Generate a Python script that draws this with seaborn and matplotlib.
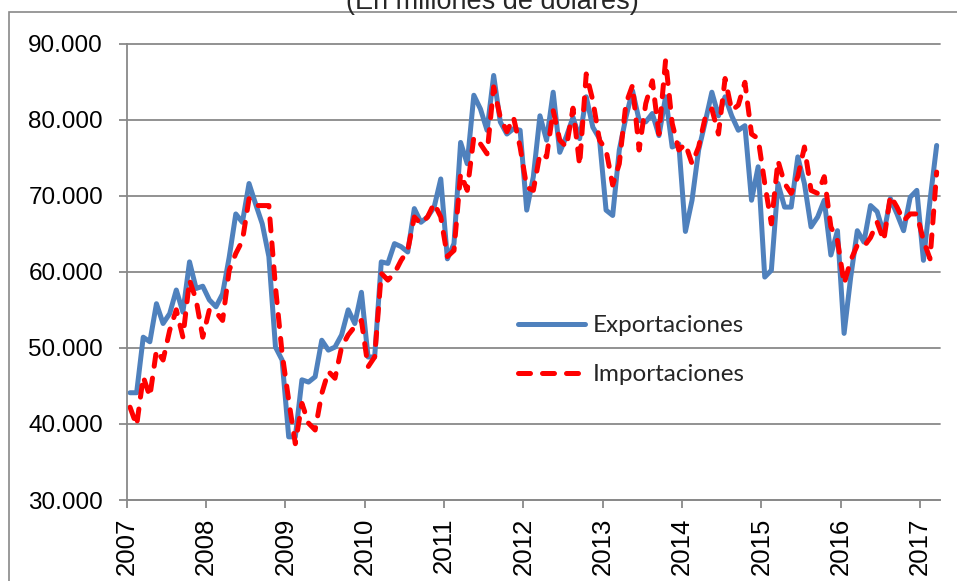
import numpy as np
import pandas as pd
import matplotlib
matplotlib.use("Agg")
import matplotlib.pyplot as plt
import seaborn as sns
from matplotlib.patches import Rectangle
from matplotlib.ticker import FuncFormatter

# Datos mensuales ene-2007 a mar-2017 (miles de millones de dolares)
anios = [2007, 2008, 2009, 2010, 2011, 2012, 2013, 2014, 2015, 2016, 2017]

exportaciones = [
    44.1, 44.1, 51.4, 50.8, 55.8, 53.2, 54.5, 57.6, 54.7, 61.3, 57.8, 58.1,
    56.3, 55.4, 57.1, 61.9, 67.6, 66.5, 71.6, 68.9, 66.3, 62.0, 50.1, 48.4,
    38.3, 38.3, 45.8, 45.5, 46.2, 51.0, 49.7, 50.1, 51.7, 55.0, 53.2, 57.3,
    48.8, 48.8, 61.3, 61.1, 63.7, 63.3, 62.6, 68.3, 66.5, 67.2, 68.5, 72.2,
    61.7, 63.7, 77.0, 74.2, 83.2, 81.4, 78.6, 85.8, 79.7, 78.1, 78.8, 78.6,
    68.1, 72.5, 80.5, 77.3, 83.6, 75.7, 77.8, 80.3, 77.5, 83.0, 79.0, 77.5,
    68.1, 67.4, 76.0, 80.3, 83.8, 79.9, 79.7, 80.8, 77.9, 83.0, 76.4, 76.8,
    65.3, 69.4, 76.0, 79.7, 83.6, 80.5, 83.0, 80.5, 78.6, 79.2, 69.4, 73.8,
    59.3, 60.2, 71.6, 68.5, 68.5, 75.1, 71.6, 65.9, 67.2, 69.4, 62.2, 65.4,
    51.9, 59.3, 65.4, 63.9, 68.7, 67.9, 65.0, 69.6, 67.6, 65.4, 69.8, 70.7,
    61.5, 69.4, 76.6,
]

importaciones = [
    42.2, 39.8, 46.2, 43.6, 49.7, 48.4, 52.3, 55.0, 51.4, 58.9, 56.3, 51.4,
    55.0, 54.7, 53.6, 60.2, 62.4, 64.1, 69.6, 68.7, 68.7, 68.7, 58.0, 49.3,
    43.1, 37.4, 42.7, 40.1, 39.2, 44.0, 46.9, 46.0, 50.1, 51.7, 52.8, 53.6,
    47.5, 48.8, 59.8, 58.9, 59.8, 61.5, 62.8, 67.2, 66.3, 67.2, 69.0, 67.2,
    62.0, 62.8, 72.9, 70.7, 77.7, 76.8, 75.5, 84.3, 80.3, 78.4, 80.3, 76.4,
    71.1, 70.7, 75.5, 75.1, 81.2, 77.3, 76.4, 81.5, 74.0, 86.0, 82.5, 77.3,
    76.0, 71.4, 74.2, 82.1, 84.5, 76.0, 82.1, 85.1, 78.1, 87.8, 79.5, 76.0,
    76.8, 74.2, 76.4, 80.3, 81.4, 78.1, 85.4, 81.2, 81.9, 84.9, 78.1, 77.5,
    71.6, 66.3, 74.6, 71.6, 70.3, 72.5, 76.4, 70.7, 70.3, 72.5, 65.9, 64.1,
    58.4, 61.5, 63.5, 63.3, 64.5, 66.5, 64.1, 70.0, 68.5, 66.7, 67.6, 67.6,
    64.1, 61.7, 73.1,
]

df = pd.DataFrame({
    "mes": np.arange(len(exportaciones)),
    "Exportaciones": np.array(exportaciones) * 1000,
    "Importaciones": np.array(importaciones) * 1000,
})

sns.set_style("white")
plt.rcParams["font.family"] = ["Liberation Sans", "DejaVu Sans"]
gris = "#898989"

fig = plt.figure(figsize=(9.57, 5.81), dpi=100)
ax = fig.add_axes([0.1324, 0.1394, 0.8498, 0.7857])

sns.lineplot(data=df, x="mes", y="Exportaciones", color="#4F81BD",
             linewidth=3.6, label="Exportaciones", ax=ax)
sns.lineplot(data=df, x="mes", y="Importaciones", color="#FF0000",
             linewidth=3.6, label="Importaciones", ax=ax)
lin_exp, lin_imp = ax.lines[0], ax.lines[1]
lin_exp.set_solid_capstyle("round")
lin_exp.set_solid_joinstyle("round")
lin_imp.set_dashes([2.4, 2.4])
lin_imp.set_dash_capstyle("round")

ax.set_xlim(-0.5, len(exportaciones) - 0.5)
ax.set_xticks([12 * i - 0.5 for i in range(len(anios))])
ax.set_xticklabels([str(a) for a in anios], rotation=90)
ax.set_ylim(30000, 90000)
ax.set_yticks(range(30000, 90001, 10000))
ax.yaxis.set_major_formatter(FuncFormatter(lambda v, p: f"{v:,.0f}".replace(",", ".")))
ax.set_xlabel("")
ax.set_ylabel("")

ax.grid(axis="y", color=gris, linewidth=1.3)
for gl in ax.get_ygridlines():
    gl.set_clip_on(False)
ax.set_axisbelow(True)
ax.tick_params(axis="both", direction="out", length=6, width=1.3, color=gris,
               labelcolor="black")
ax.tick_params(axis="y", pad=11, left=True, labelsize=17.5)
ax.tick_params(axis="x", pad=6.5, bottom=True, labelsize=18.5)
for s in ["top", "right"]:
    ax.spines[s].set_visible(False)
for s in ["left", "bottom"]:
    ax.spines[s].set_color(gris)
    ax.spines[s].set_linewidth(1.3)

ax.legend(loc="center left", bbox_to_anchor=(0.481, 0.328), frameon=False,
          prop={"family": ["Lato", "DejaVu Sans"], "size": 17.5},
          handlelength=2.75, handletextpad=0.35, labelspacing=1.15,
          borderpad=0, borderaxespad=0)

fig.text(0.515, 1 - 9 / 581, "(En millones de dólares)", ha="center",
         va="baseline", fontsize=19.5)
fig.add_artist(Rectangle((9.3 / 957, -0.05), 1.2, 1 - 12.5 / 581 + 0.05,
                         transform=fig.transFigure, fill=False,
                         edgecolor=gris, linewidth=1.2))

fig.savefig("out.png", dpi=100)
